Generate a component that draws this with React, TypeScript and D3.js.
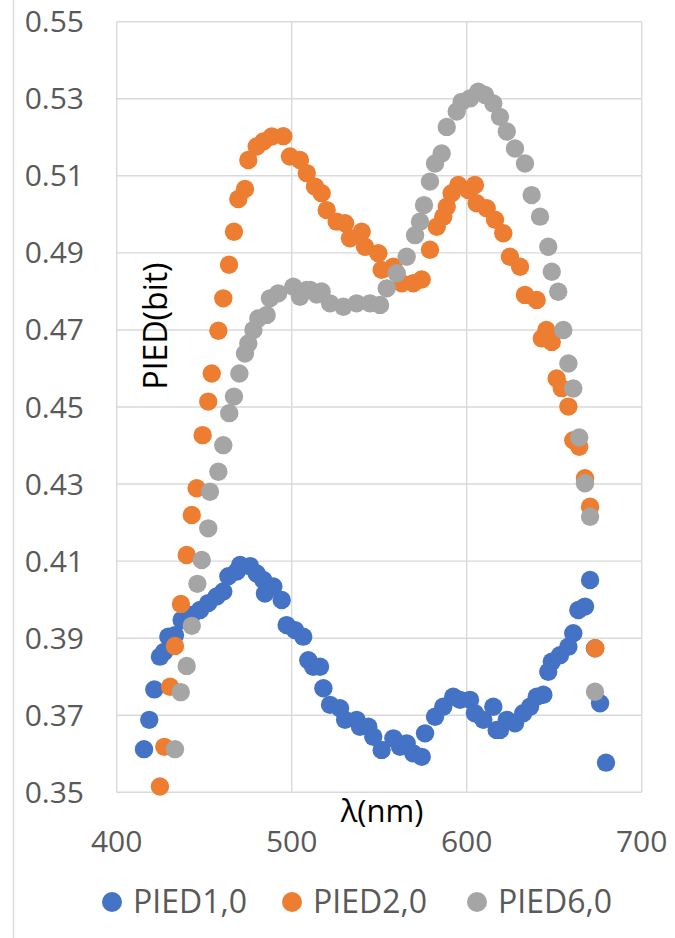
import React from "react";
import * as d3 from "d3";

// wavelength (nm) / PIED (bit)
const pied1X = [415.6, 418.6, 421.5, 424.7, 427, 429.5, 433.3, 437.1, 442.9, 447.6, 452.3, 457.1, 460.9, 463.8, 468.6, 470.5, 476.2, 480, 483.8, 484.7, 489.5, 494.3, 497.1, 501.9, 506.6, 509.5, 512.3, 516.2, 518.1, 521.9, 527.6, 530.5, 537.1, 539, 543.8, 546.6, 551.4, 558.1, 561.9, 565.7, 569.5, 574.3, 576.2, 581.9, 586.6, 592.3, 596.2, 601.9, 604.7, 609.5, 615.2, 617.1, 619, 622.9, 627.6, 632.3, 636.2, 640, 643.8, 646.6, 648.6, 653.3, 658.1, 660.9, 663.8, 667.6, 670.5, 673.3, 676.2, 679.6];
const pied1Y = [0.3612, 0.3688, 0.3767, 0.3852, 0.3864, 0.3904, 0.3908, 0.3947, 0.396, 0.3973, 0.3991, 0.4008, 0.4021, 0.4061, 0.4073, 0.409, 0.4087, 0.4068, 0.4051, 0.4016, 0.4034, 0.3999, 0.3934, 0.3921, 0.3904, 0.3843, 0.3826, 0.3826, 0.377, 0.3727, 0.3718, 0.3688, 0.3688, 0.367, 0.367, 0.3644, 0.361, 0.364, 0.3618, 0.3627, 0.3601, 0.3592, 0.3653, 0.3696, 0.3722, 0.3748, 0.374, 0.374, 0.3705, 0.3688, 0.3722, 0.3662, 0.3662, 0.3688, 0.3679, 0.3705, 0.3722, 0.3748, 0.3753, 0.3813, 0.3839, 0.3856, 0.3878, 0.3913, 0.3973, 0.3982, 0.4051, 0.3874, 0.3731, 0.3577];

const pied2X = [424.7, 427.2, 430.5, 433.3, 436.7, 440, 442.9, 445.7, 449.1, 452.3, 454.3, 458.1, 460.9, 464.2, 467, 469.5, 473.3, 475.2, 480, 483.8, 488.6, 495.2, 499, 504.7, 508.6, 513.3, 517.1, 520, 525.7, 530.5, 533.3, 540, 541.9, 549.5, 551.4, 558.1, 562.9, 569.5, 574.3, 579, 582.9, 586.6, 588.6, 591.4, 595.2, 600.9, 604.7, 605.7, 611.4, 616.2, 620.9, 624.7, 630.5, 633.3, 640, 642.9, 645.5, 648.6, 651.4, 654.3, 658.1, 660.9, 664.3, 667.6, 670.5, 673.5];
const pied2Y = [0.3515, 0.3618, 0.3774, 0.388, 0.3989, 0.4116, 0.422, 0.4289, 0.4427, 0.4514, 0.4587, 0.4698, 0.4782, 0.4869, 0.4955, 0.504, 0.5066, 0.5141, 0.5176, 0.5189, 0.5202, 0.5203, 0.515, 0.5141, 0.5107, 0.5072, 0.5055, 0.5011, 0.4981, 0.4977, 0.4938, 0.4955, 0.4916, 0.4899, 0.4856, 0.4864, 0.4821, 0.4821, 0.4831, 0.4908, 0.4968, 0.4994, 0.502, 0.5055, 0.5076, 0.5063, 0.5076, 0.5029, 0.5016, 0.4986, 0.4951, 0.489, 0.4864, 0.4791, 0.4778, 0.4678, 0.47, 0.4669, 0.4574, 0.4549, 0.4501, 0.4414, 0.4397, 0.4315, 0.4241, 0.3874];

const pied6X = [433.3, 436.6, 440, 442.9, 446.1, 448.6, 452.3, 453.3, 458.1, 460.9, 464.3, 467, 470.1, 473.3, 475.2, 478.1, 480.9, 485.7, 487.6, 492.3, 500.9, 504.7, 508.6, 510.5, 514.3, 517.1, 521.9, 529.5, 537.1, 544.7, 550.5, 554.3, 560, 565.7, 570.5, 573.3, 575.6, 579, 581.9, 585.7, 588.6, 594.3, 597.1, 601.9, 606.6, 610.5, 615.2, 619, 622.9, 627.6, 633.3, 637.1, 641.9, 646.6, 648.6, 652.3, 655.2, 658.1, 660.9, 664.3, 667.6, 670.5, 673.3];
const pied6Y = [0.3612, 0.376, 0.3828, 0.3932, 0.4041, 0.4103, 0.4185, 0.428, 0.4332, 0.4401, 0.4484, 0.4527, 0.4587, 0.4639, 0.4665, 0.47, 0.473, 0.4739, 0.4782, 0.4795, 0.4812, 0.4786, 0.4804, 0.4804, 0.4792, 0.48, 0.4769, 0.476, 0.4769, 0.4769, 0.4765, 0.4808, 0.4847, 0.489, 0.4946, 0.4981, 0.5024, 0.5085, 0.5132, 0.5158, 0.5227, 0.5267, 0.5292, 0.5301, 0.5318, 0.531, 0.5288, 0.5253, 0.5215, 0.5171, 0.5132, 0.505, 0.4994, 0.4916, 0.4851, 0.4799, 0.47, 0.4613, 0.4548, 0.4421, 0.4302, 0.4215, 0.3761];

const seriesNames = ["PIED1,0", "PIED2,0", "PIED6,0"];
const seriesColors = ["#4472C4", "#ED7D31", "#A5A5A5"];
const xTicks = [400, 500, 600, 700];
const yTicks = [0.35, 0.37, 0.39, 0.41, 0.43, 0.45, 0.47, 0.49, 0.51, 0.53, 0.55];

const W = 675;
const H = 938;
const FONT = "'Open Sans', sans-serif";

export default function App() {
  const x = d3.scaleLinear().domain([400, 700]).range([116.7, 641.7]);
  const y = d3.scaleLinear().domain([0.35, 0.55]).range([792.3, 21.7]);

  const series = [
    { xs: pied1X, ys: pied1Y },
    { xs: pied2X, ys: pied2Y },
    { xs: pied6X, ys: pied6Y },
  ];

  const legendX = [112, 292, 477];

  return (
    <svg width={W} height={H} style={{ position: "absolute", left: 0, top: 0, background: "#fff" }}>
      <rect width={W} height={H} fill="#fff" />
      {/* left edge of the chart frame */}
      <line x1={13.5} x2={13.5} y1={0} y2={H} stroke="#d9d9d9" strokeWidth={1.3} />

      {/* grid */}
      {yTicks.map((t) => (
        <line key={"gy" + t} x1={x(400)} x2={x(700)} y1={y(t)} y2={y(t)} stroke="#d9d9d9" strokeWidth={1.4} />
      ))}
      {xTicks.map((t) => (
        <line key={"gx" + t} x1={x(t)} x2={x(t)} y1={y(0.35)} y2={y(0.55)} stroke="#d9d9d9" strokeWidth={1.4} />
      ))}

      {/* tick labels */}
      {yTicks.map((t) => (
        <text key={"ty" + t} x={84} y={y(t) + 10.5} textAnchor="end" fontFamily={FONT} fontSize={30} fill="#595959">
          {d3.format(".2f")(t)}
        </text>
      ))}
      {xTicks.map((t) => (
        <text key={"tx" + t} x={x(t)} y={852} textAnchor="middle" fontFamily={FONT} fontSize={30} fill="#595959">
          {t}
        </text>
      ))}

      {/* points */}
      {series.map((s, i) => (
        <g key={"s" + i} fill={seriesColors[i]}>
          {s.xs.map((v, j) => (
            <circle key={j} cx={x(v)} cy={y(s.ys[j])} r={9.2} />
          ))}
        </g>
      ))}

      {/* axis titles */}
      <text x={382} y={822} textAnchor="middle" fontFamily={FONT} fontSize={31} fill="#000">
        λ(nm)
      </text>
      <text
        transform={`translate(167,326) rotate(-90)`}
        textAnchor="middle"
        fontFamily={FONT}
        fontSize={32}
        fill="#000"
      >
        PIED(bit)
      </text>

      {/* legend */}
      {seriesNames.map((n, i) => (
        <g key={"l" + i}>
          <circle cx={legendX[i]} cy={902} r={10} fill={seriesColors[i]} />
          <text x={legendX[i] + 21} y={913} fontFamily={FONT} fontSize={32} fill="#595959">
            {n}
          </text>
        </g>
      ))}
    </svg>
  );
}
